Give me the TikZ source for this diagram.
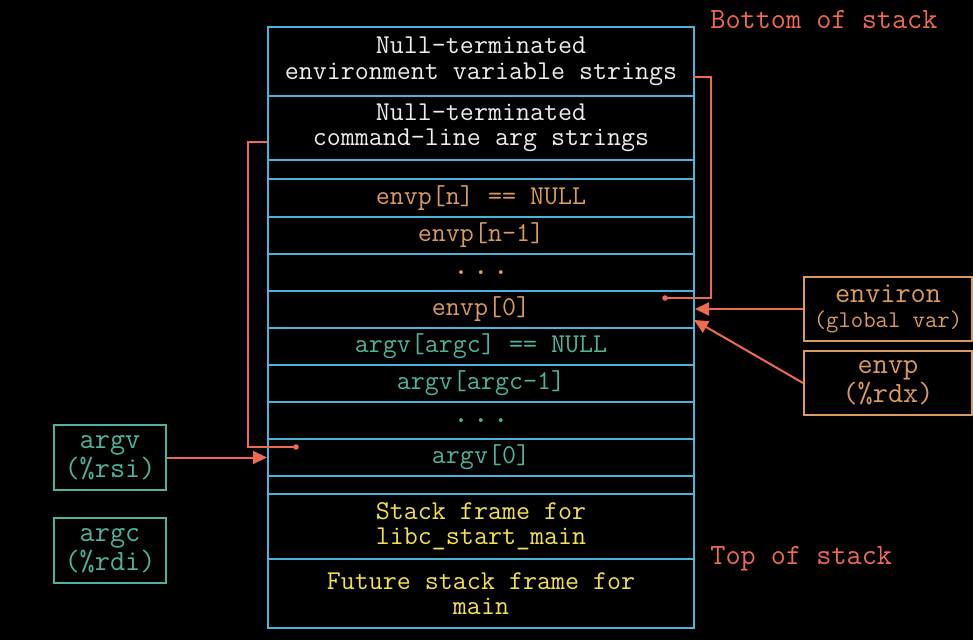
\documentclass[tikz,border=0pt]{standalone}
\usetikzlibrary{arrows.meta}
\definecolor{stackblue}{HTML}{4BB4DA}
\definecolor{envorange}{HTML}{D99B5E}
\definecolor{argteal}{HTML}{4DB39C}
\definecolor{frameyellow}{HTML}{F2E24F}
\definecolor{ptrred}{HTML}{EE6A52}
\definecolor{txtwhite}{HTML}{EDEDED}
\newcommand\stackfont{\ttfamily\fontsize{13.6}{12.7}\selectfont}
\newcommand\boxfont{\ttfamily\fontsize{14.7}{12.5}\selectfont}
\newcommand\smallboxfont{\ttfamily\fontsize{12}{12}\selectfont}
\newcommand\stackdots{{\fontsize{17}{17}\selectfont\makebox[10pt]{.}\makebox[10pt]{.}\makebox[10pt]{.}}}
\tikzset{
  cell/.style={draw=stackblue, line width=1pt, minimum width=213pt, inner sep=0pt,
    anchor=north west, font=\stackfont, align=center},
  regbox/.style={draw=#1, text=#1, line width=1pt, inner sep=0pt, anchor=north west,
    font=\boxfont, align=center},
  ptr/.style={draw=ptrred, line width=1pt},
  ptrarrow/.style={ptr, -{Triangle[length=7pt,width=6.5pt]}},
  stacklabel/.style={text=ptrred, font=\boxfont, anchor=base west, inner sep=0pt},
}
\begin{document}
\begin{tikzpicture}[x=0.5pt,y=-0.5pt]
\fill[black] (0,0) rectangle (973,640);
\useasboundingbox (0,0) rectangle (973,640);

% stack cells
\node[cell, minimum height=34.5pt, text=txtwhite] (envstr) at (267,26) {Null-terminated\\environment variable strings};
\node[cell, minimum height=32pt, text=txtwhite] (argstr) at (267,95) {Null-terminated\\command-line arg strings};
\node[cell, minimum height=9.5pt] (gapa) at (267,159) {};
\node[cell, minimum height=19pt, text=envorange] (envn) at (267,178) {envp[n] == NULL};
\node[cell, minimum height=18.5pt, text=envorange] (envnm) at (267,216) {envp[n-1]};
\node[cell, minimum height=18.5pt, text=envorange] (envdots) at (267,253) {\stackdots};
\node[cell, minimum height=18.5pt, text=envorange] (envz) at (267,290) {envp[0]};
\node[cell, minimum height=18.5pt, text=argteal] (argvn) at (267,327) {argv[argc] == NULL};
\node[cell, minimum height=18.5pt, text=argteal] (argvnm) at (267,364) {argv[argc-1]};
\node[cell, minimum height=18.5pt, text=argteal] (argvdots) at (267,401) {\stackdots};
\node[cell, minimum height=18.5pt, text=argteal] (argvz) at (267,438) {argv[0]};
\node[cell, minimum height=9pt] (gapb) at (267,475) {};
\node[cell, minimum height=32.5pt, text=frameyellow] (libc) at (267,493) {Stack frame for\\libc\_start\_main};
\node[cell, minimum height=34.5pt, text=frameyellow] (future) at (267,558) {Future stack frame for\\main};

% labels
\node[stacklabel] (bottom) at (710,29) {Bottom of stack};
\node[stacklabel] (top) at (710,564) {Top of stack};

% register / variable boxes
\node[regbox=argteal, minimum width=56pt, minimum height=32.5pt] (argv) at (53,424) {argv\\(\%rsi)};
\node[regbox=argteal, minimum width=56pt, minimum height=32.5pt] (argc) at (53,517) {argc\\(\%rdi)};
\node[regbox=envorange, minimum width=84pt, minimum height=32pt] (environ) at (803,276) {environ\\{\smallboxfont(global var)}};
\node[regbox=envorange, minimum width=84pt, minimum height=32pt] (envp) at (803,350) {envp\\(\%rdx)};

% pointer connectors
\coordinate (ezero) at (665,298);
\coordinate (ebend) at (711,0);
\coordinate (ein) at (693,77);
\fill[ptrred] (ezero) circle (1.4pt);
\draw[ptr] (ezero) -- (ezero -| ebend) -- (ebend |- ein) -- (ein);

\coordinate (azero) at (296,447);
\coordinate (abend) at (248,0);
\coordinate (ain) at (267,142);
\fill[ptrred] (azero) circle (1.4pt);
\draw[ptr] (azero) -- (azero -| abend) -- (abend |- ain) -- (ain);

\coordinate (envptip) at (694,320);
\draw[ptrarrow] (environ.west) -- (environ.west -| envz.east);
\draw[ptrarrow] (envp.west) -- (envptip);
\draw[ptrarrow] (argv.east) -- (argv.east -| argvz.west);
\end{tikzpicture}
\end{document}
